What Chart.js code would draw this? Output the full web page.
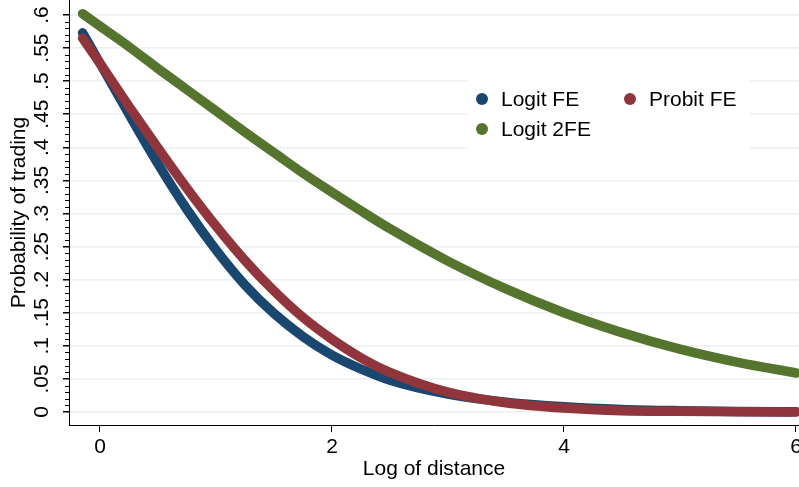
<!DOCTYPE html>
<html lang="en">
<head>
    <meta charset="UTF-8">
    <title>Probability of trading</title>
    <script src="https://cdn.jsdelivr.net/npm/chart.js@4.4.1/dist/chart.umd.min.js"></script>
    <style>
        body { margin: 0; background: #fff; }
    </style>
</head>
<body>
    <canvas id="chart" width="799" height="487"></canvas>

    <script>
        // values
        var logDistance = [-0.15, 0, 0.25, 0.5, 0.75, 1, 1.25, 1.5, 1.75, 2, 2.25, 2.5, 3, 3.5, 4, 4.5, 5, 5.5, 6];
        var logitFE  = [0.573, 0.527, 0.450, 0.375, 0.306, 0.245, 0.192, 0.149, 0.114, 0.086, 0.065, 0.048, 0.027, 0.015, 0.008, 0.004, 0.002, 0.0008, 0.0004];
        var probitFE = [0.565, 0.527, 0.462, 0.399, 0.338, 0.281, 0.229, 0.183, 0.143, 0.110, 0.082, 0.060, 0.030, 0.014, 0.006, 0.002, 0.001, 0.0003, 0.0001];
        var logit2FE = [0.602, 0.583, 0.552, 0.519, 0.487, 0.455, 0.423, 0.392, 0.361, 0.332, 0.304, 0.277, 0.228, 0.186, 0.150, 0.120, 0.095, 0.075, 0.059];

        var xTicks = [0, 2, 4, 6];
        var yTicks = [0, 0.05, 0.1, 0.15, 0.2, 0.25, 0.3, 0.35, 0.4, 0.45, 0.5, 0.55, 0.6];
        var yTickLabels = ['0', '.05', '.1', '.15', '.2', '.25', '.3', '.35', '.4', '.45', '.5', '.55', '.6'];

        var FONT = 'Liberation Sans, Arial, Helvetica, sans-serif';

        function toPoints(ys) {
            return logDistance.map(function (x, i) { return { x: x, y: ys[i] }; });
        }

        function series(label, ys, color, order) {
            return {
                label: label,
                data: toPoints(ys),
                borderColor: color,
                backgroundColor: color,
                borderWidth: 9.5,
                borderCapStyle: 'round',
                borderJoinStyle: 'round',
                pointRadius: 0,
                cubicInterpolationMode: 'monotone',
                order: order
            };
        }

        // stata-like legend box inside the plot
        var legendBox = {
            id: 'legendBox',
            afterDraw: function (chart) {
                var ctx = chart.ctx;
                var spots = [[482, 99], [630, 99], [482, 129]];
                ctx.save();
                ctx.fillStyle = '#fff';
                ctx.fillRect(467, 72, 283, 82);
                ctx.font = '21px ' + FONT;
                ctx.textBaseline = 'middle';
                ctx.textAlign = 'left';
                chart.data.datasets.forEach(function (ds, i) {
                    var p = spots[i];
                    ctx.fillStyle = ds.borderColor;
                    ctx.beginPath();
                    ctx.arc(p[0], p[1], 6, 0, Math.PI * 2);
                    ctx.fill();
                    ctx.fillStyle = '#000';
                    ctx.fillText(ds.label, p[0] + 19, p[1] + 1);
                });
                ctx.restore();
            }
        };

        // minor ticks on the y axis
        var minorTicks = {
            id: 'minorTicks',
            afterDraw: function (chart) {
                var ctx = chart.ctx;
                var y = chart.scales.y;
                var left = chart.chartArea.left;
                ctx.save();
                ctx.strokeStyle = '#000';
                ctx.lineWidth = 1;
                ctx.beginPath();
                for (var k = 1; k < 60; k++) {
                    if (k % 5 === 0) continue;
                    var py = Math.round(y.getPixelForValue(k / 100)) + 0.5;
                    ctx.moveTo(left - 4, py);
                    ctx.lineTo(left, py);
                }
                ctx.stroke();
                ctx.restore();
            }
        };

        var chart = new Chart(document.getElementById('chart').getContext('2d'), {
            type: 'line',
            data: {
                datasets: [
                    series('Logit FE', logitFE, '#1a476f', 2),
                    series('Probit FE', probitFE, '#90353b', 1),
                    series('Logit 2FE', logit2FE, '#55752f', 0)
                ]
            },
            options: {
                responsive: false,
                animation: false,
                devicePixelRatio: 1,
                layout: { padding: 0 },
                plugins: {
                    legend: { display: false },
                    tooltip: { enabled: false }
                },
                scales: {
                    x: {
                        type: 'linear',
                        min: -0.267,
                        max: 6.026,
                        afterBuildTicks: function (s) {
                            s.ticks = xTicks.map(function (v) { return { value: v }; });
                        },
                        afterFit: function (s) {
                            s.height = 62;
                            s.paddingLeft = 0;
                            s.paddingRight = 0;
                        },
                        grid: {
                            drawOnChartArea: false,
                            tickColor: '#000',
                            tickLength: 7
                        },
                        border: { display: true, color: '#000', width: 1 },
                        ticks: {
                            color: '#000',
                            font: { family: FONT, size: 21 },
                            padding: 3,
                            maxRotation: 0,
                            callback: function (v) { return String(v); }
                        },
                        title: {
                            display: true,
                            text: 'Log of distance',
                            color: '#000',
                            font: { family: FONT, size: 21 },
                            padding: { top: 0, bottom: 5 }
                        }
                    },
                    y: {
                        type: 'linear',
                        min: -0.0196,
                        max: 0.6226,
                        afterBuildTicks: function (s) {
                            s.ticks = yTicks.map(function (v) { return { value: v }; });
                        },
                        afterFit: function (s) {
                            s.width = 69;
                            s.paddingTop = 0;
                            s.paddingBottom = 0;
                        },
                        grid: {
                            color: '#eaf0f3',
                            lineWidth: 1.5,
                            tickColor: '#000',
                            tickLength: 6
                        },
                        border: { display: true, color: '#000', width: 1 },
                        ticks: {
                            color: '#000',
                            font: { family: FONT, size: 21 },
                            padding: 6,
                            minRotation: 90,
                            maxRotation: 90,
                            crossAlign: 'center',
                            callback: function (v, i) { return yTickLabels[i]; }
                        },
                        title: {
                            display: true,
                            text: 'Probability of trading',
                            color: '#000',
                            font: { family: FONT, size: 21 },
                            padding: { top: 7, bottom: 0 }
                        }
                    }
                }
            },
            plugins: [minorTicks, legendBox]
        });
    </script>
</body>
</html>
